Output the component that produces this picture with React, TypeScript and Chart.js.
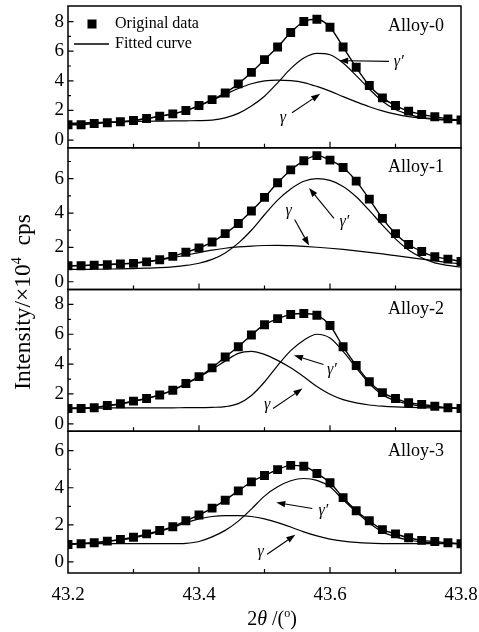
import React, { useEffect, useRef } from 'react';
import { Chart, registerables } from 'chart.js';

Chart.register(...registerables);

const FONT = "'Liberation Serif', 'Times New Roman', serif";

const X_VALUES = [
  43.2, 43.22, 43.24, 43.26, 43.28, 43.3, 43.32, 43.34, 43.36, 43.38, 43.4,
  43.42, 43.44, 43.46, 43.48, 43.5, 43.52, 43.54, 43.56, 43.58, 43.6,
  43.62, 43.64, 43.66, 43.68, 43.7, 43.72, 43.74, 43.76, 43.78, 43.8,
];
const X_LABEL_TICKS = [43.2, 43.4, 43.6, 43.8];
const X_MAJOR_TICKS = [43.4, 43.6];
const X_MINOR_TICKS = [43.3, 43.5, 43.7];

const ALLOY_NAMES = ['Alloy-0', 'Alloy-1', 'Alloy-2', 'Alloy-3'];

// Alloy-0
const DATA_0 = [1.03, 1.03, 1.12, 1.17, 1.23, 1.32, 1.46, 1.61, 1.77, 2.0, 2.33, 2.73, 3.18, 3.79, 4.57, 5.43, 6.28, 7.26, 8.0, 8.16, 7.62, 6.28, 4.91, 3.68, 2.85, 2.33, 1.95, 1.73, 1.57, 1.43, 1.35];
const GPRIME_0 = [1.12, 1.15, 1.18, 1.2, 1.23, 1.25, 1.27, 1.28, 1.29, 1.3, 1.31, 1.35, 1.5, 1.8, 2.3, 2.96, 3.86, 4.82, 5.54, 5.85, 5.76, 5.2, 4.35, 3.45, 2.62, 2.06, 1.73, 1.52, 1.43, 1.37, 1.32];
const GAMMA_0 = [1.12, 1.14, 1.17, 1.2, 1.25, 1.32, 1.45, 1.6, 1.77, 1.98, 2.3, 2.68, 3.08, 3.48, 3.8, 3.99, 4.05, 4.01, 3.88, 3.62, 3.3, 2.93, 2.58, 2.25, 1.97, 1.75, 1.58, 1.47, 1.4, 1.35, 1.32];

// Alloy-1
const DATA_1 = [0.93, 0.93, 0.97, 0.99, 1.03, 1.07, 1.16, 1.28, 1.48, 1.72, 1.97, 2.31, 2.8, 3.39, 4.12, 4.91, 5.76, 6.51, 7.04, 7.34, 7.08, 6.65, 5.86, 4.81, 3.69, 2.8, 2.17, 1.76, 1.46, 1.32, 1.18];
const GPRIME_1 = [0.72, 0.72, 0.73, 0.74, 0.75, 0.77, 0.79, 0.82, 0.87, 0.95, 1.08, 1.3, 1.68, 2.25, 3.0, 3.9, 4.75, 5.4, 5.85, 6.0, 5.9, 5.55, 4.95, 4.15, 3.3, 2.5, 1.85, 1.4, 1.1, 0.95, 0.85];
const GAMMA_1 = [0.93, 0.95, 0.98, 1.01, 1.05, 1.1, 1.17, 1.27, 1.4, 1.55, 1.7, 1.84, 1.95, 2.03, 2.08, 2.11, 2.12, 2.1, 2.06, 2.01, 1.95, 1.88, 1.8, 1.71, 1.62, 1.52, 1.42, 1.32, 1.22, 1.12, 1.04];

// Alloy-2
const DATA_2 = [1.02, 1.02, 1.07, 1.23, 1.34, 1.52, 1.7, 1.93, 2.25, 2.7, 3.16, 3.75, 4.48, 5.16, 5.95, 6.64, 7.05, 7.32, 7.39, 7.27, 6.59, 5.16, 3.91, 2.82, 2.09, 1.7, 1.41, 1.3, 1.18, 1.07, 1.02];
const GPRIME_2 = [1.05, 1.05, 1.05, 1.06, 1.06, 1.06, 1.07, 1.07, 1.07, 1.08, 1.08, 1.1, 1.15, 1.35, 1.9, 2.8, 3.9, 4.9, 5.6, 6.0, 5.75, 4.85, 3.75, 2.7, 1.95, 1.55, 1.32, 1.2, 1.12, 1.08, 1.05];
const GAMMA_2 = [1.05, 1.06, 1.1, 1.2, 1.32, 1.5, 1.7, 1.93, 2.25, 2.68, 3.12, 3.65, 4.2, 4.72, 4.85, 4.65, 4.25, 3.75, 3.15, 2.5, 1.98, 1.62, 1.4, 1.26, 1.18, 1.13, 1.1, 1.08, 1.07, 1.06, 1.05];

// Alloy-3
const DATA_3 = [0.94, 0.98, 1.03, 1.12, 1.21, 1.33, 1.51, 1.69, 1.9, 2.22, 2.53, 2.9, 3.33, 3.83, 4.32, 4.66, 4.98, 5.21, 5.16, 4.77, 4.27, 3.47, 2.76, 2.22, 1.74, 1.51, 1.3, 1.16, 1.1, 1.03, 0.98];
const GPRIME_3 = [0.98, 0.98, 0.98, 0.98, 0.98, 0.98, 0.98, 0.98, 0.98, 1.0, 1.1, 1.35, 1.7, 2.2, 2.85, 3.55, 4.05, 4.38, 4.5, 4.4, 4.05, 3.35, 2.7, 2.1, 1.62, 1.35, 1.18, 1.08, 1.03, 1.0, 0.98];
const GAMMA_3 = [0.98, 1.0, 1.03, 1.1, 1.18, 1.3, 1.46, 1.65, 1.86, 2.12, 2.32, 2.45, 2.5, 2.5, 2.45, 2.32, 2.12, 1.88, 1.62, 1.4, 1.23, 1.12, 1.05, 1.01, 0.99, 0.98, 0.98, 0.98, 0.98, 0.98, 0.98];

const DATA = [DATA_0, DATA_1, DATA_2, DATA_3];
const GPRIME = [GPRIME_0, GPRIME_1, GPRIME_2, GPRIME_3];
const GAMMA = [GAMMA_0, GAMMA_1, GAMMA_2, GAMMA_3];

const Y_MIN = [-0.52, -0.45, -0.5, -0.6];
const Y_MAX = [9.05, 7.8, 9.0, 7.05];
const Y_TICKS = [[0, 2, 4, 6, 8], [0, 2, 4, 6], [0, 2, 4, 6, 8], [0, 2, 4, 6]];
const Y_MINOR = [[1, 3, 5, 7], [1, 3, 5, 7], [1, 3, 5, 7], [1, 3, 5]];

// annotation arrows: [panel, fromX, fromY, toX, toY, label, labelX, labelY]
const ARROWS: [number, number, number, number, number, string, number, number][] = [
  [0, 43.69, 5.31, 43.614, 5.36, 'γ′', 43.705, 5.25],
  [0, 43.542, 1.84, 43.585, 3.12, 'γ', 43.528, 1.5],
  [1, 43.606, 3.69, 43.568, 5.46, 'γ′', 43.622, 3.49],
  [1, 43.546, 3.63, 43.568, 2.11, 'γ', 43.537, 4.12],
  [2, 43.59, 3.98, 43.545, 4.59, 'γ′', 43.603, 3.61],
  [2, 43.513, 1.02, 43.558, 2.36, 'γ', 43.504, 1.3],
  [3, 43.573, 2.88, 43.518, 3.2, 'γ′', 43.59, 2.76],
  [3, 43.504, 0.41, 43.547, 1.46, 'γ', 43.494, 0.53],
];

function drawArrow(ctx: CanvasRenderingContext2D, x1: number, y1: number, x2: number, y2: number) {
  const ang = Math.atan2(y2 - y1, x2 - x1);
  const len = 9;
  const hw = 3.2;
  const bx = x2 - Math.cos(ang) * len;
  const by = y2 - Math.sin(ang) * len;
  ctx.beginPath();
  ctx.moveTo(x1, y1);
  ctx.lineTo(bx, by);
  ctx.stroke();
  ctx.beginPath();
  ctx.moveTo(x2, y2);
  ctx.lineTo(bx - Math.sin(ang) * hw, by + Math.cos(ang) * hw);
  ctx.lineTo(bx + Math.sin(ang) * hw, by - Math.cos(ang) * hw);
  ctx.closePath();
  ctx.fill();
}

function drawPieces(ctx: CanvasRenderingContext2D, pieces: { t: string; f: string; dy: number }[], cx: number, cy: number) {
  let total = 0;
  for (const p of pieces) {
    ctx.font = p.f;
    total += ctx.measureText(p.t).width;
  }
  let x = cx - total / 2;
  for (const p of pieces) {
    ctx.font = p.f;
    ctx.fillText(p.t, x, cy + p.dy);
    x += ctx.measureText(p.t).width;
  }
}

const decorPlugin = {
  id: 'decor',
  afterDraw(chart: any) {
    const ctx: CanvasRenderingContext2D = chart.ctx;
    const xs = chart.scales.x;
    const area = chart.chartArea;
    ctx.save();
    ctx.strokeStyle = '#000';
    ctx.fillStyle = '#000';
    for (let p = 0; p < 4; p++) {
      const ys = chart.scales['y' + p];
      const top = ys.top;
      const bottom = ys.bottom;
      ctx.lineWidth = 1.5;
      ctx.strokeRect(area.left, top, area.right - area.left, bottom - top);
      ctx.lineWidth = 1.2;
      ctx.beginPath();
      for (const v of Y_TICKS[p]) {
        const y = ys.getPixelForValue(v);
        ctx.moveTo(area.left, y);
        ctx.lineTo(area.left + 5.5, y);
      }
      for (const v of Y_MINOR[p]) {
        const y = ys.getPixelForValue(v);
        ctx.moveTo(area.left, y);
        ctx.lineTo(area.left + 3, y);
      }
      for (const v of X_MAJOR_TICKS) {
        const x = xs.getPixelForValue(v);
        ctx.moveTo(x, bottom);
        ctx.lineTo(x, bottom - 6);
      }
      for (const v of X_MINOR_TICKS) {
        const x = xs.getPixelForValue(v);
        ctx.moveTo(x, bottom);
        ctx.lineTo(x, bottom - 4);
      }
      ctx.stroke();
      ctx.font = `18px ${FONT}`;
      ctx.textAlign = 'right';
      ctx.textBaseline = 'middle';
      ctx.fillText(ALLOY_NAMES[p], area.right - 17, top + 20);
    }
    // arrows
    ctx.lineWidth = 1.1;
    for (const a of ARROWS) {
      const ys = chart.scales['y' + a[0]];
      drawArrow(ctx, xs.getPixelForValue(a[1]), ys.getPixelForValue(a[2]), xs.getPixelForValue(a[3]), ys.getPixelForValue(a[4]));
      ctx.font = `italic 16px ${FONT}`;
      ctx.textAlign = 'center';
      ctx.textBaseline = 'middle';
      ctx.fillText(a[5], xs.getPixelForValue(a[6]), ys.getPixelForValue(a[7]));
    }
    // legend
    const lx = area.left;
    const ly = area.top;
    ctx.fillRect(lx + 19.5, ly + 13.5, 9, 9);
    ctx.lineWidth = 1.3;
    ctx.beginPath();
    ctx.moveTo(lx + 6, ly + 38);
    ctx.lineTo(lx + 41, ly + 38);
    ctx.stroke();
    ctx.font = `16px ${FONT}`;
    ctx.textAlign = 'left';
    ctx.textBaseline = 'middle';
    ctx.fillText('Original data', lx + 47, ly + 18);
    ctx.fillText('Fitted curve', lx + 47, ly + 38);
    // x title
    ctx.textAlign = 'left';
    ctx.textBaseline = 'middle';
    drawPieces(ctx, [
      { t: '2', f: `20px ${FONT}`, dy: 0 },
      { t: 'θ', f: `italic 20px ${FONT}`, dy: 0 },
      { t: ' /(', f: `20px ${FONT}`, dy: 0 },
      { t: 'o', f: `12px ${FONT}`, dy: -6 },
      { t: ')', f: `20px ${FONT}`, dy: 0 },
    ], 272, 620);
    // y title
    ctx.save();
    ctx.translate(24, 302);
    ctx.rotate(-Math.PI / 2);
    drawPieces(ctx, [
      { t: 'Intensity/×10', f: `23.5px ${FONT}`, dy: 0 },
      { t: '4', f: `14px ${FONT}`, dy: -7 },
      { t: '  cps', f: `23.5px ${FONT}`, dy: 0 },
    ], 0, 0);
    ctx.restore();
    ctx.restore();
  },
};

function zeroPadding(s: any) {
  s.paddingTop = 0;
  s.paddingBottom = 0;
  s.paddingLeft = 0;
  s.paddingRight = 0;
}

export default function App() {
  const ref = useRef<HTMLCanvasElement | null>(null);
  useEffect(() => {
    if (!ref.current) return;
    const datasets: any[] = [];
    for (let p = 0; p < 4; p++) {
      const pts = (arr: number[]) => X_VALUES.map((x, i) => ({ x, y: arr[i] }));
      datasets.push({
        label: 'Original data ' + p,
        data: pts(DATA[p]),
        yAxisID: 'y' + p,
        showLine: false,
        pointStyle: 'rect',
        pointRadius: 6.3,
        backgroundColor: '#000',
        borderWidth: 0,
        order: 0,
        clip: 0,
      });
      datasets.push({
        label: 'Fitted curve ' + p,
        data: pts(DATA[p]),
        yAxisID: 'y' + p,
        showLine: true,
        borderColor: '#000',
        borderWidth: 1.4,
        pointRadius: 0,
        cubicInterpolationMode: 'monotone',
        order: 1,
        clip: 0,
      });
      datasets.push({
        label: 'gamma prime ' + p,
        data: pts(GPRIME[p]),
        yAxisID: 'y' + p,
        showLine: true,
        borderColor: '#000',
        borderWidth: 1.2,
        pointRadius: 0,
        cubicInterpolationMode: 'monotone',
        order: 2,
        clip: 0,
      });
      datasets.push({
        label: 'gamma ' + p,
        data: pts(GAMMA[p]),
        yAxisID: 'y' + p,
        showLine: true,
        borderColor: '#000',
        borderWidth: 1.2,
        pointRadius: 0,
        cubicInterpolationMode: 'monotone',
        order: 3,
        clip: 0,
      });
    }
    const scales: any = {
      x: {
        type: 'linear',
        position: 'bottom',
        min: 43.2,
        max: 43.8,
        grid: { display: false, drawTicks: false },
        border: { display: false },
        afterBuildTicks: (s: any) => {
          s.ticks = X_LABEL_TICKS.map((v) => ({ value: v }));
        },
        afterFit: (s: any) => {
          s.height = 59;
          zeroPadding(s);
        },
        ticks: {
          autoSkip: false,
          maxRotation: 0,
          padding: 11,
          color: '#000',
          font: { family: FONT, size: 19 },
          callback: (v: any) => Number(v).toFixed(1),
        },
      },
    };
    for (let p = 0; p < 4; p++) {
      const ticks = Y_TICKS[p];
      scales['y' + p] = {
        type: 'linear',
        position: 'left',
        stack: 'panels',
        stackWeight: 1,
        weight: 4 - p,
        min: Y_MIN[p],
        max: Y_MAX[p],
        grid: { display: false, drawTicks: false },
        border: { display: false },
        afterBuildTicks: (s: any) => {
          s.ticks = ticks.map((v) => ({ value: v }));
        },
        afterFit: (s: any) => {
          s.width = 68;
          zeroPadding(s);
        },
        ticks: {
          autoSkip: false,
          padding: 4,
          color: '#000',
          font: { family: FONT, size: 19 },
          callback: (v: any) => String(v),
        },
      };
    }
    const chart = new Chart(ref.current, {
      type: 'scatter',
      data: { datasets },
      options: {
        responsive: false,
        animation: false,
        devicePixelRatio: 1,
        layout: { autoPadding: false, padding: { top: 6, right: 18, left: 0, bottom: 0 } },
        plugins: { legend: { display: false }, tooltip: { enabled: false }, title: { display: false } },
        scales,
      },
      plugins: [decorPlugin],
    } as any);
    return () => chart.destroy();
  }, []);
  return (
    <div style={{ position: 'fixed', left: 0, top: 0, width: 479, height: 632, background: '#fff' }}>
      <canvas ref={ref} width={479} height={632} style={{ width: 479, height: 632 }} />
    </div>
  );
}
